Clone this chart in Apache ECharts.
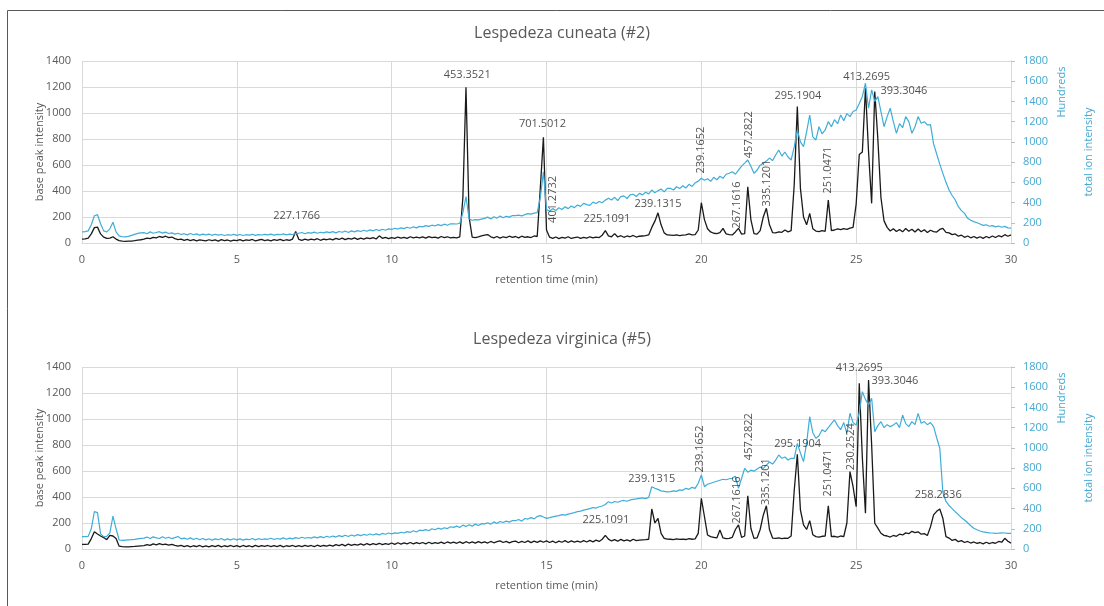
<!DOCTYPE html>
<html style="height: 100%">
<head>
	<meta charset="utf-8">
</head>
<body style="height: 100%; margin: 0; background: #fff">
	<div id="container" style="width: 1104px; height: 606px"></div>
	<script type="text/javascript" src="https://cdn.jsdelivr.net/npm/echarts@6/dist/echarts.min.js"></script>
	<script type="text/javascript">
		// retention time step of the traces (min)
		var step = 0.1;

		// Lespedeza cuneata (#2) - base peak intensity, one row per minute
		var bpCuneata = [
			30, 32, 38, 70, 118, 122, 70, 45, 35, 38,
			48, 30, 18, 14, 12, 14, 15, 18, 22, 25,
			30, 38, 34, 44, 40, 50, 44, 52, 42, 46,
			34, 26, 30, 20, 27, 19, 26, 17, 24, 20,
			16, 25, 18, 24, 15, 26, 19, 23, 14, 22,
			18, 26, 16, 24, 20, 27, 17, 23, 28, 19,
			24, 17, 26, 21, 28, 18, 25, 20, 30, 88,
			28, 20, 30, 22, 29, 24, 33, 21, 30, 25,
			32, 24, 35, 27, 38, 26, 36, 30, 40, 28,
			38, 30, 40, 33, 42, 31, 55, 36, 44, 34,
			42, 35, 46, 38, 44, 36, 48, 39, 45, 40,
			47, 38, 49, 41, 46, 37, 50, 42, 48, 39,
			44, 40, 48, 350, 1198, 200, 45, 42, 48, 55,
			60, 65, 48, 40, 50, 38, 48, 42, 52, 44,
			50, 40, 52, 44, 48, 42, 54, 50, 420, 813,
			100, 45, 36, 46, 34, 44, 38, 48, 35, 42,
			46, 36, 44, 38, 48, 40, 46, 42, 60, 95,
			55, 48, 72, 46, 56, 44, 54, 48, 58, 46,
			52, 54, 56, 62, 120, 168, 232, 140, 78, 62,
			60, 58, 62, 57, 60, 63, 70, 62, 64, 100,
			310, 180, 110, 85, 75, 72, 80, 112, 70, 65,
			62, 85, 113, 68, 72, 433, 180, 72, 68, 95,
			200, 267, 140, 80, 78, 85, 82, 100, 86, 95,
			450, 1049, 420, 200, 140, 228, 110, 92, 88, 95,
			90, 330, 95, 100, 108, 102, 110, 105, 115, 120,
			300, 680, 700, 1190, 700, 305, 1165, 800, 350, 170,
			120, 92, 110, 88, 104, 86, 112, 90, 106, 84,
			108, 86, 102, 80, 98, 88, 84, 104, 112, 82,
			78, 64, 70, 52, 60, 44, 54, 40, 50, 38,
			48, 36, 50, 40, 54, 42, 56, 48, 64, 52,
			62
		];
		// Lespedeza cuneata (#2) - total ion intensity (hundreds)
		var ticCuneata = [
			110, 112, 120, 180, 270, 280, 190, 120, 110, 140,
			205, 110, 70, 62, 60, 65, 75, 85, 95, 100,
			102, 92, 110, 96, 104, 112, 98, 108, 94, 100,
			88, 96, 84, 92, 80, 94, 82, 90, 78, 88,
			80, 88, 76, 86, 78, 84, 74, 82, 77, 85,
			76, 84, 74, 82, 78, 86, 75, 83, 79, 85,
			80, 88, 78, 86, 82, 90, 80, 88, 84, 95,
			96, 104, 92, 102, 98, 108, 96, 106, 100, 110,
			102, 112, 100, 114, 106, 118, 104, 120, 110, 122,
			114, 126, 116, 130, 120, 134, 122, 136, 126, 140,
			134, 146, 138, 150, 142, 156, 146, 160, 150, 164,
			160, 172, 164, 176, 168, 182, 172, 186, 176, 190,
			190, 188, 195, 300, 458, 240, 225, 232, 228, 236,
			244, 256, 238, 260, 246, 268, 250, 264, 256, 272,
			270, 275, 268, 280, 290, 285, 295, 300, 450, 705,
			330, 316, 340, 322, 348, 332, 358, 340, 366, 350,
			376, 362, 392, 380, 372, 404, 390, 410, 398, 424,
			442, 426, 452, 420, 458, 466, 440, 476, 482, 460,
			491, 476, 502, 486, 524, 496, 518, 534, 506, 540,
			541, 524, 556, 538, 566, 544, 580, 560, 594, 612,
			640, 620, 635, 610, 650, 625, 660, 640, 680, 690,
			705, 680, 720, 760, 790, 821, 760, 690, 720, 770,
			788, 810, 840, 815, 870, 920, 860, 900, 850, 821,
			950, 1118, 1000, 952, 1100, 1266, 1050, 1019, 1150, 1080,
			1118, 1200, 1150, 1220, 1180, 1266, 1210, 1280, 1250, 1300,
			1316, 1380, 1450, 1580, 1333, 1514, 1400, 1447, 1300, 1150,
			1250, 1333, 1200, 1085, 1180, 1140, 1250, 1200, 1085, 1150,
			1250, 1184, 1200, 1167, 1170, 980, 880, 780, 689, 600,
			524, 470, 425, 359, 320, 293, 244, 225, 211, 200,
			188, 174, 180, 166, 172, 160, 168, 156, 164, 150,
			148
		];
		// Lespedeza virginica (#5) - base peak intensity
		var bpVirginica = [
			35, 36, 38, 80, 133, 115, 100, 88, 72, 105,
			100, 80, 22, 18, 16, 17, 19, 20, 22, 24,
			26, 34, 28, 40, 32, 42, 34, 38, 30, 36,
			28, 22, 28, 18, 26, 16, 25, 19, 27, 17,
			24, 16, 26, 18, 28, 17, 25, 19, 27, 18,
			26, 17, 27, 19, 25, 16, 28, 18, 26, 20,
			27, 18, 26, 19, 28, 17, 25, 20, 27, 18,
			26, 19, 28, 20, 27, 18, 29, 21, 27, 22,
			30, 22, 33, 26, 36, 24, 38, 28, 36, 30,
			40, 30, 42, 32, 41, 34, 44, 33, 42, 36,
			46, 36, 48, 38, 47, 40, 50, 39, 49, 41,
			50, 40, 52, 42, 49, 44, 53, 42, 54, 45,
			52, 44, 55, 43, 56, 46, 54, 45, 57, 47,
			55, 46, 58, 48, 56, 62, 50, 58, 47, 57,
			60, 48, 58, 50, 62, 49, 60, 51, 63, 52,
			62, 50, 60, 48, 61, 52, 64, 50, 62, 53,
			60, 52, 64, 54, 66, 55, 68, 58, 75, 105,
			76, 62, 72, 60, 74, 63, 70, 61, 75, 64,
			68, 70, 72, 75, 308, 200, 236, 120, 82, 76,
			75, 72, 78, 74, 76, 73, 80, 75, 78, 120,
			390, 250, 108, 95, 90, 85, 146, 85, 79, 82,
			90, 150, 185, 90, 100, 410, 160, 82, 85, 150,
			260, 333, 150, 84, 82, 86, 80, 84, 82, 100,
			450, 728, 300, 185, 150, 218, 110, 95, 92, 98,
			100, 333, 95, 98, 92, 100, 96, 200, 595, 479,
			325, 1275, 700, 275, 1300, 800, 198, 160, 121, 105,
			100, 92, 104, 98, 114, 108, 124, 118, 136, 126,
			132, 114, 118, 104, 170, 262, 290, 308, 236, 95,
			84, 66, 74, 56, 64, 50, 58, 46, 54, 44,
			50, 40, 52, 42, 50, 44, 58, 52, 82, 60,
			45
		];
		// Lespedeza virginica (#5) - total ion intensity (hundreds)
		var ticVirginica = [
			122, 122, 125, 200, 369, 360, 150, 122, 125, 160,
			326, 200, 89, 85, 88, 90, 92, 95, 100, 105,
			108, 118, 104, 120, 110, 104, 122, 106, 116, 102,
			112, 124, 100, 108, 96, 110, 94, 106, 92, 104,
			90, 102, 88, 100, 92, 104, 88, 100, 90, 102,
			90, 100, 88, 98, 92, 104, 90, 102, 94, 100,
			96, 106, 94, 104, 98, 110, 96, 108, 100, 112,
			104, 116, 106, 114, 108, 120, 110, 122, 112, 126,
			116, 128, 118, 132, 122, 136, 124, 138, 128, 142,
			132, 144, 136, 148, 138, 150, 140, 154, 146, 158,
			150, 160, 154, 166, 158, 172, 164, 180, 168, 186,
			182, 192, 180, 200, 190, 206, 196, 210, 202, 220,
			214, 226, 212, 236, 222, 240, 226, 246, 232, 250,
			248, 260, 246, 268, 252, 272, 262, 276, 266, 282,
			280, 292, 276, 302, 296, 310, 298, 322, 330, 316,
			303, 310, 318, 325, 330, 340, 335, 345, 352, 360,
			369, 375, 385, 392, 400, 410, 405, 418, 425, 440,
			468, 455, 470, 462, 475, 480, 472, 485, 490, 495,
			501, 505, 498, 510, 616, 600, 590, 575, 570, 565,
			567, 575, 570, 585, 580, 600, 590, 610, 600, 650,
			732, 616, 640, 650, 660, 670, 680, 690, 685, 695,
			699, 720, 600, 700, 798, 760, 780, 770, 790, 810,
			798, 830, 860, 840, 880, 930, 897, 910, 880, 897,
			897, 1045, 950, 864, 1050, 1309, 1150, 1095, 1120, 1180,
			1160, 1200, 1240, 1276, 1220, 1180, 1250, 1144, 1342, 1250,
			1226, 1350, 1556, 1480, 1424, 1490, 1160, 1220, 1259, 1200,
			1230, 1210, 1226, 1250, 1200, 1325, 1240, 1210, 1260, 1230,
			1342, 1243, 1260, 1230, 1250, 1210, 1100, 996, 560, 470,
			430, 400, 369, 340, 310, 287, 260, 230, 205, 190,
			178, 170, 165, 160, 158, 155, 157, 160, 158, 155,
			155
		];

		// peak annotations: [time, intensity, m/z]
		var peaksCuneata = [
			[6.93, 205, '227.1766'], [12.44, 1297, '453.3521'], [14.87, 915, '701.5012'],
			[16.95, 188, '225.1091'], [18.6, 300, '239.1315'], [23.12, 1133, '295.1904'],
			[25.34, 1279, '413.2695'], [26.54, 1171, '393.3046']
		];
		var peaksCuneataVertical = [
			[15.2, 335, '401.2732'], [20.0, 715, '239.1652'], [21.16, 292, '267.1616'],
			[21.54, 833, '457.2822'], [22.12, 461, '335.1201'], [24.1, 561, '251.0471']
		];
		var peaksVirginica = [
			[16.92, 223, '225.1091'], [18.4, 538, '239.1315'], [23.11, 805, '295.1904'],
			[25.1, 1395, '413.2695'], [26.25, 1295, '393.3046'], [27.65, 415, '258.2836']
		];
		var peaksVirginicaVertical = [
			[19.94, 769, '239.1652'], [21.16, 377, '267.1616'], [21.54, 864, '457.2822'],
			[22.08, 518, '335.1201'], [24.1, 584, '251.0471'], [24.83, 787, '230.2524']
		];

		var titles = ['Lespedeza cuneata (#2)', 'Lespedeza virginica (#5)'];

		var FONT = 'Open Sans';
		var GREY = '#595959';
		var GRIDC = '#d9d9d9';
		var BLUE = '#3fadd7';
		var BLUE_TXT = '#45a9d1';

		function toPairs(arr) {
			return arr.map(function(v, i) {
				return [Math.round(i * step * 10) / 10, v];
			});
		}

		function labelData(list, vertical) {
			return list.map(function(p) {
				return {
					value: [p[0], p[1]],
					name: p[2],
					label: { rotate: vertical ? 90 : 0 }
				};
			});
		}

		function plain(v) {
			return String(v);
		}

		var gridTops = [61, 367];
		var plotH = 182;

		var grids = gridTops.map(function(t) {
			return { left: 82, right: 93, top: t, height: plotH };
		});

		var xAxes = [0, 1].map(function(i) {
			return {
				gridIndex: i,
				type: 'value',
				min: 0,
				max: 30,
				interval: 5,
				axisLine: { lineStyle: { color: GRIDC } },
				axisTick: { show: false },
				axisLabel: { color: GREY, fontSize: 11, fontFamily: FONT, margin: 11, formatter: plain },
				splitLine: { show: true, lineStyle: { color: GRIDC } },
				name: 'retention time (min)',
				nameLocation: 'middle',
				nameGap: 31,
				nameTextStyle: { color: GREY, fontSize: 11, fontFamily: FONT }
			};
		});

		var yAxes = [];
		[0, 1].forEach(function(i) {
			yAxes.push({
				gridIndex: i,
				type: 'value',
				position: 'left',
				min: 0,
				max: 1400,
				interval: 200,
				axisLine: { show: false },
				axisTick: { show: false },
				axisLabel: { color: GREY, fontSize: 11, fontFamily: FONT, margin: 11, formatter: plain },
				splitLine: { lineStyle: { color: GRIDC } },
				name: 'base peak intensity',
				nameLocation: 'middle',
				nameGap: 37,
				nameMoveOverlap: false,
				nameTextStyle: { color: GREY, fontSize: 11, fontFamily: FONT }
			});
			yAxes.push({
				gridIndex: i,
				type: 'value',
				position: 'right',
				min: 0,
				max: 1800,
				interval: 200,
				axisLine: { show: true, lineStyle: { color: GRIDC } },
				axisTick: { show: true, length: 4, lineStyle: { color: '#bfbfbf' } },
				axisLabel: { color: BLUE_TXT, fontSize: 11, fontFamily: FONT, margin: 12, formatter: plain },
				splitLine: { show: false },
				name: 'total ion intensity',
				nameLocation: 'middle',
				nameGap: 72,
				nameMoveOverlap: false,
				nameTextStyle: { color: BLUE_TXT, fontSize: 11, fontFamily: FONT }
			});
		});

		function traceSeries(data, gi, yi, color, width, z) {
			return {
				type: 'line',
				xAxisIndex: gi,
				yAxisIndex: yi,
				data: toPairs(data),
				symbol: 'none',
				lineStyle: { color: color, width: width },
				z: z
			};
		}

		function labelSeries(list, vertical, gi) {
			return {
				type: 'scatter',
				xAxisIndex: gi,
				yAxisIndex: gi * 2,
				data: labelData(list, vertical),
				symbolSize: 1,
				itemStyle: { color: 'rgba(0,0,0,0)' },
				label: {
					show: true,
					position: 'inside',
					formatter: '{b}',
					color: '#262626',
					fontSize: 11,
					fontFamily: FONT
				},
				z: 5
			};
		}

		var series = [
			traceSeries(bpCuneata, 0, 0, '#1a1a1a', 1.3, 2),
			traceSeries(ticCuneata, 0, 1, BLUE, 1.2, 3),
			traceSeries(bpVirginica, 1, 2, '#1a1a1a', 1.3, 2),
			traceSeries(ticVirginica, 1, 3, BLUE, 1.2, 3),
			labelSeries(peaksCuneata, false, 0),
			labelSeries(peaksCuneataVertical, true, 0),
			labelSeries(peaksVirginica, false, 1),
			labelSeries(peaksVirginicaVertical, true, 1)
		];

		var graphics = [{
			type: 'polyline',
			shape: { points: [[7.5, 700], [7.5, 10.5], [1200, 10.5]] },
			style: { stroke: '#595959', fill: null, lineWidth: 1 },
			silent: true
		}];
		gridTops.forEach(function(t, i) {
			graphics.push({
				type: 'text',
				x: 562,
				y: t - 28,
				style: {
					text: titles[i],
					fill: GREY,
					font: '16px "Open Sans"',
					align: 'center',
					verticalAlign: 'middle'
				}
			});
			graphics.push({
				type: 'text',
				x: 1062,
				y: t + 31,
				rotation: Math.PI / 2,
				style: {
					text: 'Hundreds',
					fill: BLUE_TXT,
					font: '11px "Open Sans"',
					align: 'center',
					verticalAlign: 'middle'
				}
			});
		});

		var dom = document.getElementById('container');
		var myChart = echarts.init(dom);
		var option = {
			animation: false,
			backgroundColor: '#fff',
			grid: grids,
			xAxis: xAxes,
			yAxis: yAxes,
			series: series,
			graphic: graphics
		};
		myChart.setOption(option);
	</script>
</body>
</html>
